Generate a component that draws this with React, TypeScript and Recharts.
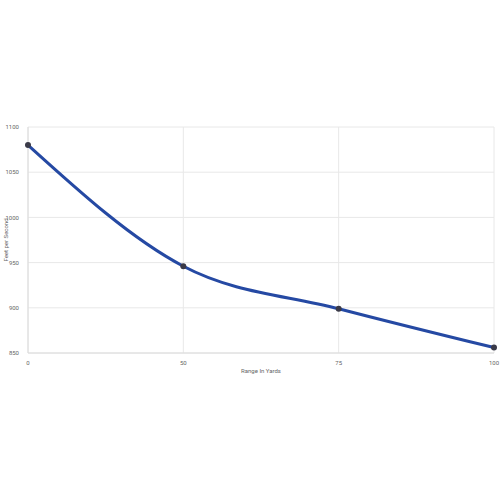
import { CartesianGrid, Line, LineChart, XAxis, YAxis } from "recharts";

const RANGES = ["0", "50", "75", "100"];
const VELOCITY = [1080, 946, 899, 856];
const Y_TICKS = [850, 900, 950, 1000, 1050, 1100];

const data = RANGES.map((range, i) => ({ range, fps: VELOCITY[i] }));

export default function App() {
  return (
    <div style={{ position: "absolute", left: 0, top: 0, width: 500, height: 500, background: "#fff", fontFamily: "Roboto, Arial, sans-serif" }}>
      <LineChart width={500} height={500} data={data} margin={{ top: 127, right: 6, left: 0, bottom: 117 }}>
        <CartesianGrid stroke="#e8e8e8" />
        <XAxis
          dataKey="range"
          tickLine={false}
          axisLine={{ stroke: "#dcdcdc" }}
          tick={{ fontSize: 6, fill: "#666" }}
          height={30}
          tickMargin={2}
          interval={0}
          label={{ value: "Range In Yards", position: "insideBottom", offset: 10, fontSize: 6, fill: "#666" }}
        />
        <YAxis
          domain={[850, 1100]}
          ticks={Y_TICKS}
          tickLine={false}
          axisLine={{ stroke: "#dcdcdc" }}
          tick={{ fontSize: 6, fill: "#666" }}
          width={28}
          tickMargin={3}
          label={{ value: "Feet per Second", angle: -90, position: "insideLeft", offset: 6, fontSize: 6, fill: "#666", style: { textAnchor: "middle" } }}
        />
        <Line
          type="monotone"
          dataKey="fps"
          stroke="#2549a3"
          strokeWidth={3}
          dot={{ r: 3, fill: "#3a3a48", stroke: "#3a3a48", strokeWidth: 0 }}
          activeDot={false}
          isAnimationActive={false}
        />
      </LineChart>
    </div>
  );
}
